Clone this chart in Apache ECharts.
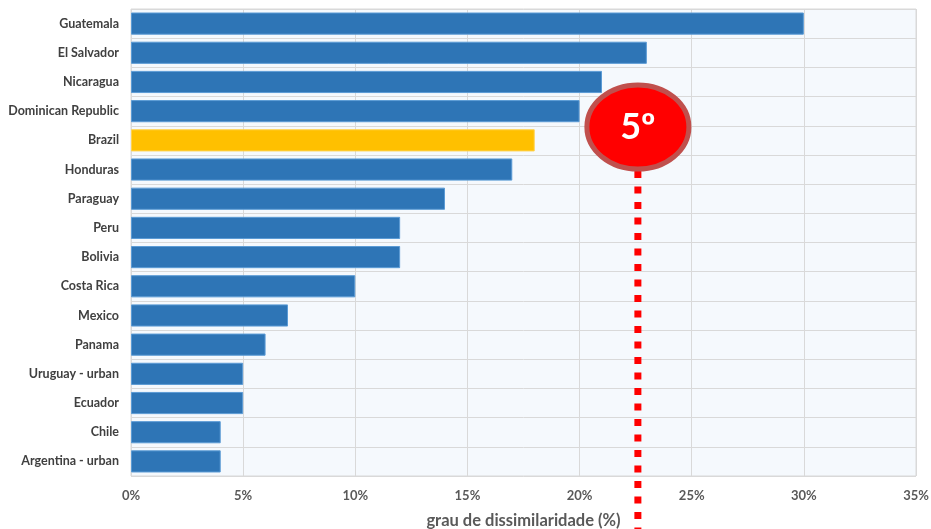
<!DOCTYPE html>
<html>
<head>
<meta charset="utf-8">
<script src="https://cdn.jsdelivr.net/npm/echarts@6/dist/echarts.min.js"></script>
<style>html,body{margin:0;padding:0;background:#fff}#c{width:931px;height:529px}</style>
</head>
<body>
<div id="c"></div>
<script>
var categories = ["Guatemala","El Salvador","Nicaragua","Dominican Republic","Brazil","Honduras","Paraguay","Peru","Bolivia","Costa Rica","Mexico","Panama","Uruguay - urban","Ecuador","Chile","Argentina - urban"];
var values = [30,23,21,20,18,17,14,12,12,10,7,6,5,5,4,4];
var highlight = "Brazil";
var rankLabel = "5º";
var markerValue = 22.6;
var axisTitle = "grau de dissimilaridade (%)";

var font = "Lato, 'Open Sans', sans-serif";
var chart = echarts.init(document.getElementById('c'), null, {renderer:'canvas'});
var data = values.map(function(v,i){
  return {value:v, itemStyle:{color: categories[i]===highlight ? '#FFC000' : '#2E75B6', borderColor: categories[i]===highlight ? '#FFD24D' : '#5B9BD5'}};
});
chart.setOption({
  animation:false,
  grid:{left:131,right:15,top:9,bottom:53,show:true,backgroundColor:'#F5F9FD',borderColor:'#D9D9D9',borderWidth:1,containLabel:false,outerBoundsMode:'none'},
  xAxis:{type:'value',min:0,max:35,interval:5,
    axisLabel:{formatter:'{value}%',color:'#595959',fontFamily:font,fontWeight:'bold',fontSize:13,margin:13},
    axisLine:{show:false},axisTick:{show:false},
    splitLine:{lineStyle:{color:'#D9D9D9',width:1}},
    name:axisTitle,nameLocation:'middle',nameGap:36,
    nameTextStyle:{color:'#595959',fontFamily:font,fontWeight:'bold',fontSize:16.5}},
  yAxis:{type:'category',data:categories,inverse:true,
    axisLabel:{color:'#404040',fontFamily:font,fontWeight:'bold',fontSize:12.5,margin:12},
    axisLine:{show:false},axisTick:{show:false},
    splitLine:{show:true,lineStyle:{color:'#D9D9D9',width:1}}},
  series:[{type:'bar',data:data,barCategoryGap:'24%',itemStyle:{borderWidth:1}}]
});
var px = chart.convertToPixel({xAxisIndex:0}, markerValue);
var cy = 127;
chart.setOption({graphic:[
  {type:'line',shape:{x1:px,y1:cy+44,x2:px,y2:529},style:{stroke:'#FF0000',lineWidth:7,lineDash:[7,8.5],lineCap:'butt'},z:10},
  {type:'ellipse',shape:{cx:px,cy:cy,rx:51,ry:42},style:{fill:'#FF0000',stroke:'#C0504D',lineWidth:5},z:11},
  {type:'text',x:px,y:cy,style:{text:rankLabel,fill:'#FFFFFF',font:'bold 36px '+font,align:'center',verticalAlign:'middle'},z:12}
]});
</script>
</body>
</html>
